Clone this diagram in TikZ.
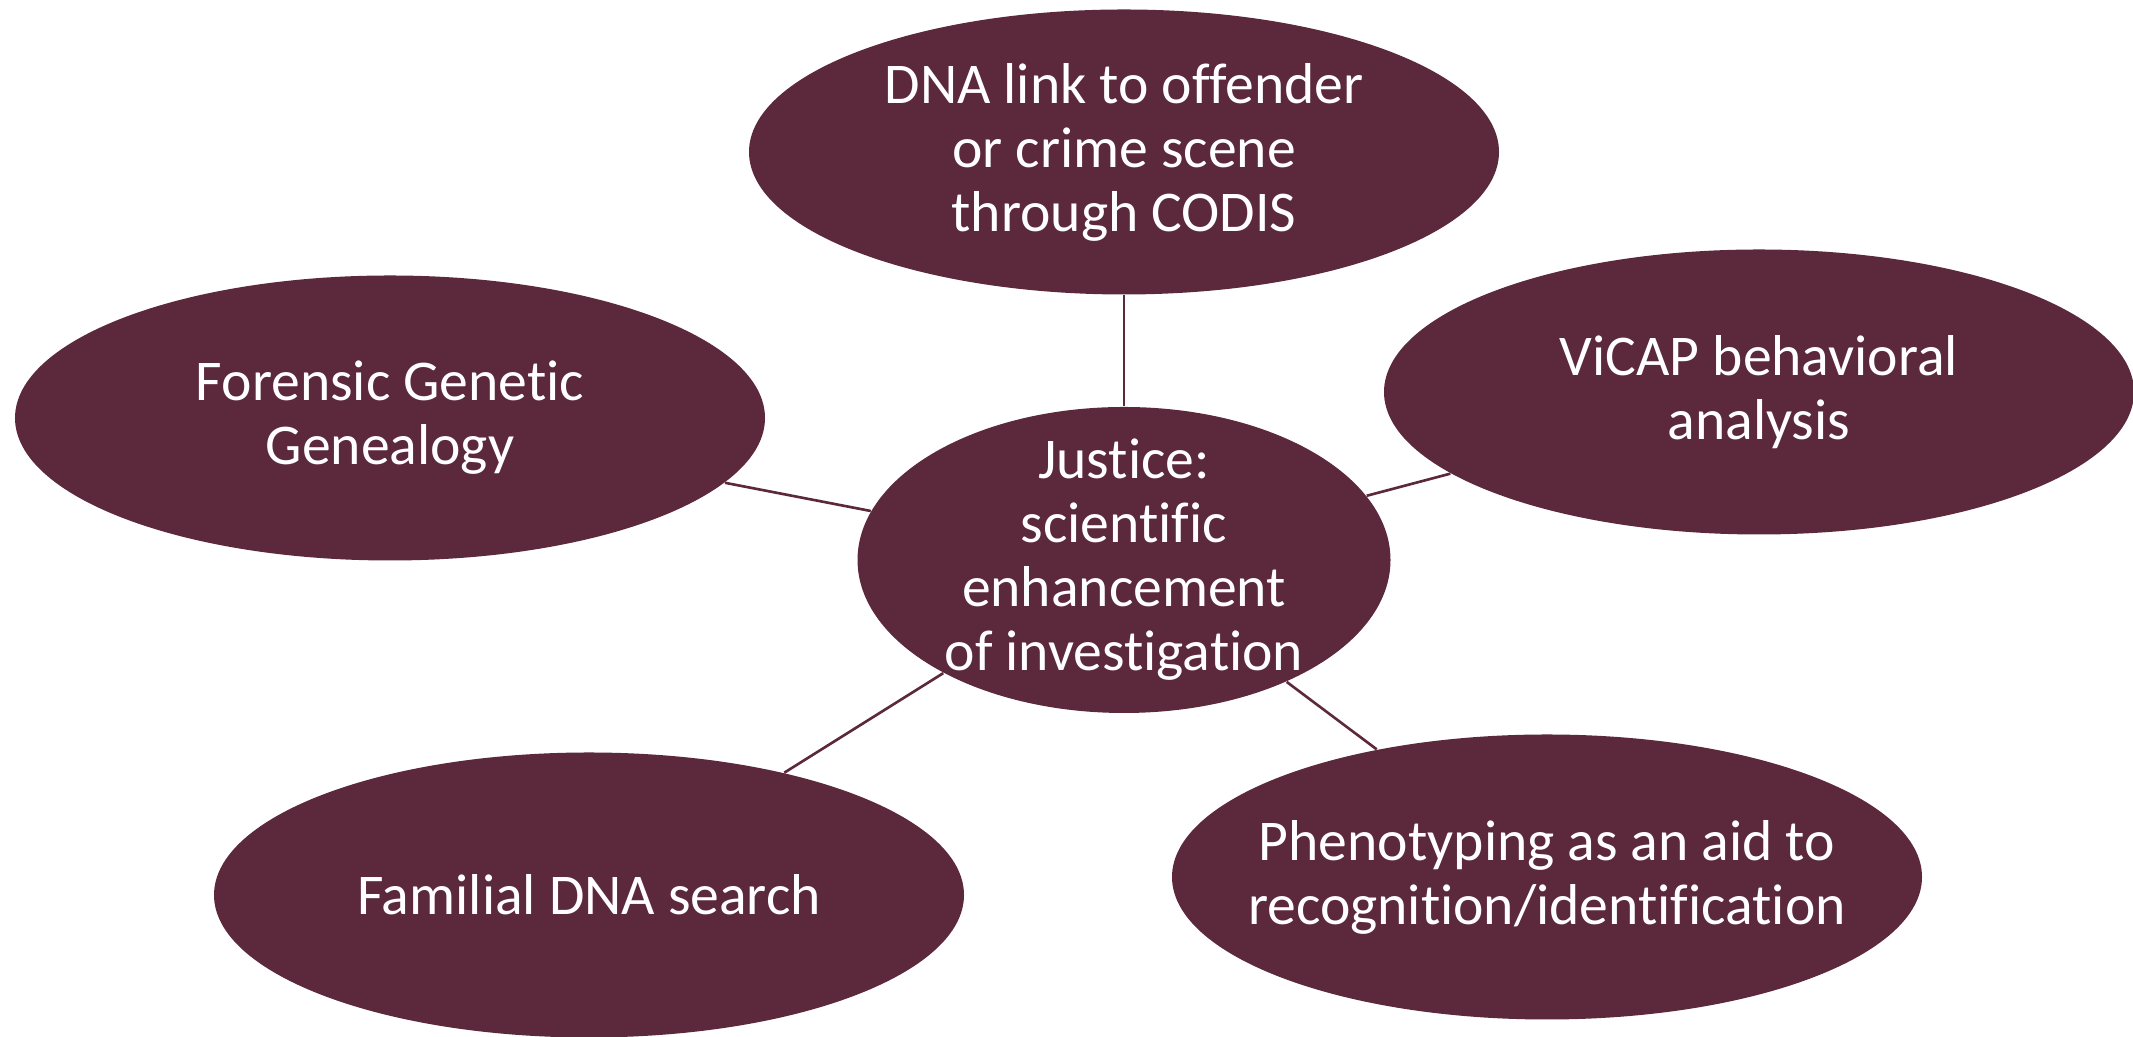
\documentclass[tikz,border=0pt]{standalone}
\usepackage{fontspec}
\setmainfont[Ligatures=NoCommon]{Carlito}
\usetikzlibrary{shapes.geometric}
\definecolor{wine}{HTML}{5C283C}

\begin{document}
\begin{tikzpicture}[
  bubble/.style={ellipse, fill=wine, inner sep=0pt, minimum width=7.5cm, minimum height=2.85cm},
  words/.style={text=white, align=center, font=\fontsize{16.4}{18.2}\selectfont},
  link/.style={draw=wine, line width=0.75pt}]
\useasboundingbox (0,0) rectangle (21.33,10.37);

% centre
\node[bubble, minimum width=5.33cm, minimum height=3.06cm] (justice) at (11.24,4.77) {};
\node[words] at (justice) {Justice:\\scientific\\enhancement\\of investigation};

% outer bubbles
\node[bubble] (dna) at (11.24,8.85) {};
\node[words] at (dna) {DNA link to offender\\or crime scene\\through CODIS};
\node[bubble] (fgg) at (3.90,6.19) {};
\node[words] at (fgg) {Forensic Genetic\\Genealogy};
\node[bubble] (vicap) at (17.59,6.45) {};
\node[words] at (vicap) {ViCAP behavioral\\analysis};
\node[bubble] (fam) at (5.89,1.42) {};
\node[words] at (fam) {Familial DNA search};
\node[bubble] (pheno) at (15.47,1.60) {};
\node[words] at (pheno) {Phenotyping as an aid to\\recognition/identification};

% spokes
\draw[link] (justice) -- (dna);
\draw[link] (justice) -- (fgg);
\draw[link] (justice) -- (vicap);
\draw[link] (justice) -- (fam);
\draw[link] (justice) -- (pheno);
\end{tikzpicture}
\end{document}
